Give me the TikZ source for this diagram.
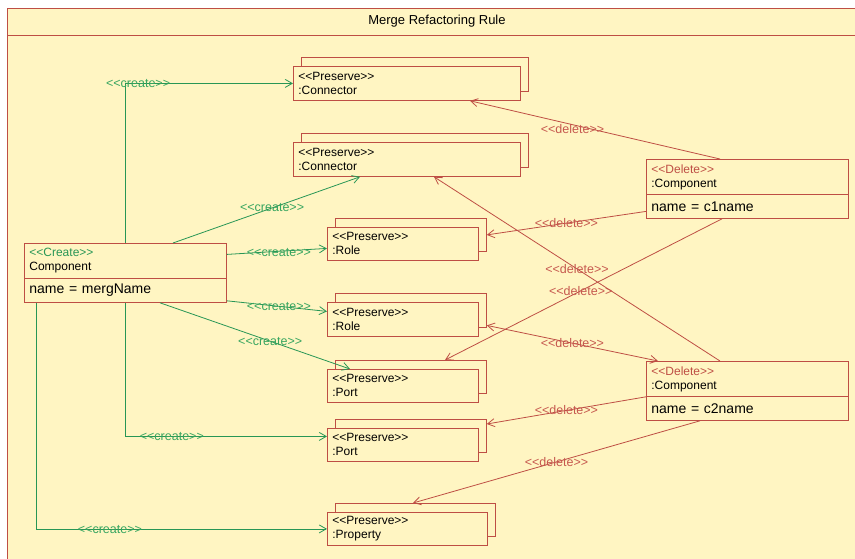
\documentclass[tikz,border=0pt]{standalone}
\usepackage{fontspec}
\setmainfont{Liberation Sans}
\usetikzlibrary{arrows.meta}
\definecolor{cream}{RGB}{255,245,194}
\definecolor{umlred}{RGB}{190,78,68}
\definecolor{umlgreen}{RGB}{40,150,85}
\definecolor{lblgreen}{RGB}{55,165,95}
\definecolor{lblred}{RGB}{198,88,78}
% stereotype brackets, kept apart so they are not turned into guillemets
\newcommand\stl{<\kern0pt<}
\newcommand\stg{>\kern0pt>}
\begin{document}
\begin{tikzpicture}[x=1pt,y=-1pt,
  line width=0.8pt,
  >={Straight Barb[length=7pt,width=8pt]},
  txt/.style={font=\fontsize{12}{14}\selectfont},
  objbox/.style={draw=umlred, fill=cream, anchor=north west, inner xsep=5pt, inner ysep=0pt, align=left, txt},
  backbox/.style={draw=umlred, fill=cream, anchor=north west, inner sep=0pt},
  attrbox/.style={draw=umlred, fill=cream, anchor=north west, inner xsep=5pt, inner ysep=0pt, align=left, font=\fontsize{14}{16}\selectfont},
  create/.style={draw=umlgreen, ->},
  delete/.style={draw=umlred, ->},
  clbl/.style={text=lblgreen, font=\fontsize{12.5}{13}\selectfont, inner sep=0pt},
  dlbl/.style={text=lblred, font=\fontsize{12.5}{13}\selectfont, inner sep=0pt},
]
\useasboundingbox (0,0) rectangle (855,558);
\clip (0,0) rectangle (855,558);

% rule frame with its title compartment
\draw[umlred, fill=cream] (7,8) rectangle (880,590);
\draw[umlred] (7,35) -- (880,35);
\node[font=\fontsize{13}{15}\selectfont] (title) at (437,21) {Merge Refactoring Rule};

% preserved objects (each with a shadow copy behind it)
\node[backbox, minimum width=227pt, minimum height=34pt] (conn1b) at (301,57) {};
\node[objbox, minimum width=227pt, minimum height=34pt, text width=217pt] (conn1) at (293,66) {\stl Preserve\stg\\:Connector};

\node[backbox, minimum width=227pt, minimum height=34pt] (conn2b) at (301,133) {};
\node[objbox, minimum width=227pt, minimum height=34pt, text width=217pt] (conn2) at (293,142) {\stl Preserve\stg\\:Connector};

\node[backbox, minimum width=151pt, minimum height=33pt] (role1b) at (335,218) {};
\node[objbox, minimum width=151pt, minimum height=33pt, text width=141pt] (role1) at (327,227) {\stl Preserve\stg\\:Role};

\node[backbox, minimum width=151pt, minimum height=34pt] (role2b) at (335,293) {};
\node[objbox, minimum width=151pt, minimum height=34pt, text width=141pt] (role2) at (327,302) {\stl Preserve\stg\\:Role};

\node[backbox, minimum width=151pt, minimum height=33pt] (port1b) at (335,360) {};
\node[objbox, minimum width=151pt, minimum height=33pt, text width=141pt] (port1) at (327,369) {\stl Preserve\stg\\:Port};

\node[backbox, minimum width=151pt, minimum height=33pt] (port2b) at (335,419) {};
\node[objbox, minimum width=151pt, minimum height=33pt, text width=141pt] (port2) at (327,428) {\stl Preserve\stg\\:Port};

\node[backbox, minimum width=160pt, minimum height=33pt] (propb) at (335,503) {};
\node[objbox, minimum width=160pt, minimum height=33pt, text width=150pt] (prop) at (327,512) {\stl Preserve\stg\\:Property};

% created component
\node[objbox, minimum width=202pt, minimum height=35pt, text width=192pt] (cmp) at (24,243) {{\color{umlgreen}\stl Create\stg}\\Component};
\node[attrbox, minimum width=202pt, minimum height=24pt, text width=192pt] (cmpa) at (24,278) {name = mergName};

% deleted components
\node[objbox, minimum width=202pt, minimum height=35pt, text width=192pt] (del1) at (646,159) {{\color{umlred}\stl Delete\stg}\\:Component};
\node[attrbox, minimum width=202pt, minimum height=24pt, text width=192pt] (del1a) at (646,194) {name = c1name};

\node[objbox, minimum width=202pt, minimum height=35pt, text width=192pt] (del2) at (646,361) {{\color{umlred}\stl Delete\stg}\\:Component};
\node[attrbox, minimum width=202pt, minimum height=24pt, text width=192pt] (del2a) at (646,396) {name = c2name};

% create links
\draw[create] ([xshift=101pt]cmp.north west) |- (conn1.west)
  node[clbl, pos=0.539] (c1) {\stl create\stg};
\draw[create] ([xshift=149pt]cmp.north west) -- ([xshift=67pt]conn2.south west)
  node[clbl, pos=0.53] (c2) {\stl create\stg};
\draw[create] ([yshift=6.5pt]cmp.east) -- ([yshift=-4.5pt]role1.west)
  node[clbl, pos=0.52, yshift=-1pt] (c3) {\stl create\stg};
\draw[create] ([yshift=2pt]cmpa.south east) -- ([yshift=8pt]role2.west)
  node[clbl, pos=0.52] (c4) {\stl create\stg};
\draw[create] ([xshift=136pt]cmpa.south west) -- ([xshift=23pt]port1.north west)
  node[clbl, pos=0.58] (c5) {\stl create\stg};
\draw[create] ([xshift=101pt]cmpa.south west) |- ([yshift=8.5pt]port2.west)
  node[clbl, pos=0.616] (c6) {\stl create\stg};
\draw[create] ([xshift=12pt]cmpa.south west) |- (prop.west)
  node[clbl, pos=0.627, yshift=-1pt] (c7) {\stl create\stg};

% delete links
\draw[delete] ([xshift=74pt]del1.north west) -- ([xshift=177pt]conn1.south west)
  node[dlbl, pos=0.59, yshift=-4.5pt] (d1) {\stl delete\stg};
\draw[delete] ([xshift=74pt]del2.north west) -- ([xshift=141pt]conn2.south west)
  node[dlbl, pos=0.5] (d2) {\stl delete\stg};
\draw[delete] ([yshift=-5pt]del1a.west) -- (role1b.east)
  node[dlbl, pos=0.5] (d3) {\stl delete\stg};
\draw[delete] ([xshift=76pt]del1a.south west) -- ([xshift=110pt]port1b.north west)
  node[dlbl, pos=0.51] (d4) {\stl delete\stg};
\draw[delete, <->] ([yshift=-15pt]role2b.east) -- ([xshift=12pt]del2.north west)
  node[dlbl, pos=0.5] (d5) {\stl delete\stg};
\draw[delete] (del2.south west) -- ([yshift=-5pt]port2b.north east)
  node[dlbl, pos=0.5] (d6) {\stl delete\stg};
\draw[delete] ([xshift=54pt]del2a.south west) -- ([xshift=78pt]propb.north west)
  node[dlbl, pos=0.5] (d7) {\stl delete\stg};
\end{tikzpicture}
\end{document}
